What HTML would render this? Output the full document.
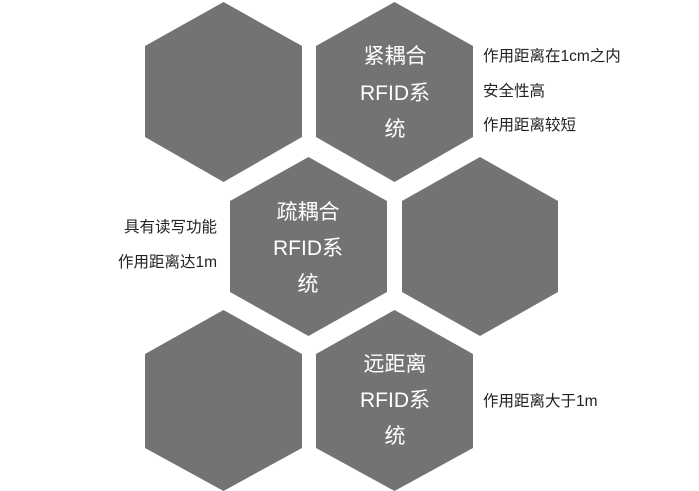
<!DOCTYPE html>
<html><head><meta charset="utf-8"><style>
html,body{margin:0;padding:0;background:#fff;width:699px;height:491px;overflow:hidden;position:relative;font-family:"Liberation Sans","Noto Sans CJK SC",sans-serif}
svg{position:absolute;left:0;top:0}
.t{position:absolute;font-size:15.5px;color:#222;line-height:18px;white-space:nowrap}
.r{text-align:right;width:200px}
</style></head><body>
<svg width="699" height="491" viewBox="0 0 699 491">
<g fill="#737373">
<polygon points="223.5,2 302,46 302,137 223.5,182 145,137 145,46"/>
<polygon points="394.5,2 473,46 473,137 394.5,182 316,137 316,46"/>
<polygon points="308.5,157 387,201 387,292 308.5,336 230,292 230,201"/>
<polygon points="480,157 558,201 558,292 480,336 402,292 402,201"/>
<polygon points="223.5,310 302,354 302,448 223.5,491 145,448 145,354"/>
<polygon points="394.5,310 473,354 473,448 394.5,491 316,448 316,354"/>
</g>
<g fill="#fff" font-family="Liberation Sans, Noto Sans CJK SC, sans-serif" font-size="21" text-anchor="middle">
<text x="395" y="63">紧耦合</text>
<text x="395" y="100">RFID系</text>
<text x="395" y="136">统</text>
<text x="308" y="219">疏耦合</text>
<text x="308" y="255">RFID系</text>
<text x="308" y="291">统</text>
<text x="395" y="371">远距离</text>
<text x="395" y="407">RFID系</text>
<text x="395" y="443">统</text>
</g>
</svg>
<div class="t" style="left:483px;top:48px">作用距离在1cm之内</div>
<div class="t" style="left:483px;top:83px">安全性高</div>
<div class="t" style="left:483px;top:117px">作用距离较短</div>
<div class="t r" style="left:17px;top:219px">具有读写功能</div>
<div class="t r" style="left:17px;top:254px">作用距离达1m</div>
<div class="t" style="left:483px;top:393px">作用距离大于1m</div>
</body></html>
